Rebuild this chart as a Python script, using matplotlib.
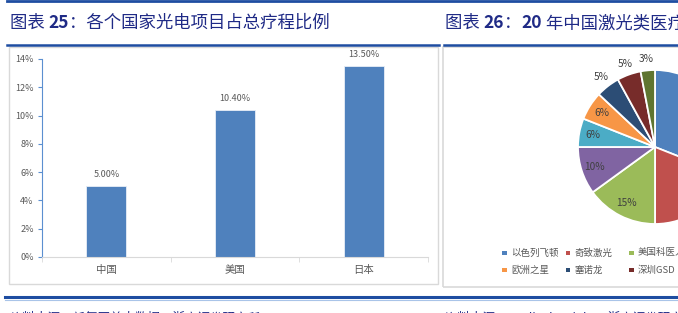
import matplotlib
matplotlib.use("Agg")
import matplotlib.pyplot as plt
from matplotlib.patches import Rectangle
from matplotlib.lines import Line2D
import numpy as np

plt.rcParams['font.family'] = ['Noto Sans CJK SC', 'DejaVu Sans']

# --- data ---
countries = ['中国', '美国', '日本']
share = [5.0, 10.4, 13.5]
yticks = [0, 2, 4, 6, 8, 10, 12, 14]

brands = ['以色列飞顿', '奇致激光', '美国科医人', '美国赛诺秀', '半岛医疗',
          '欧洲之星', '塞诺龙', '深圳GSD', '其他']
brand_share = [31, 19, 15, 10, 6, 6, 5, 5, 3]
brand_colors = ['#4F81BD', '#C0504D', '#9BBB59', '#8064A2', '#4BACC6',
                '#F79646', '#2C4D75', '#772C2A', '#5F7530']

title_left = [('图表 ', False), ('25', True), ('：各个国家光电项目占总疗程比例', False)]
title_right = [('图表 ', False), ('26', True), ('：', False), ('20', True),
               (' 年中国激光类医疗美容设备市场份额', False)]
source_left = '资料来源：新氧医美大数据，浙商证券研究所'
source_right = '资料来源：Medical Insight，浙商证券研究所'

NAVY = '#1F2A86'
LINE_BLUE = '#1E4DA1'
GRAY_TXT = '#595959'

W, H = 678, 313
fig = plt.figure(figsize=(W / 100, H / 100), dpi=100)
fig.patch.set_facecolor('white')
renderer = fig.canvas.get_renderer()


def fx(x):
    return x / W


def fy(y):
    return 1 - y / H


def hline(x0, x1, y, color, lw):
    fig.add_artist(Line2D([fx(x0), fx(x1)], [fy(y), fy(y)], color=color, lw=lw))


def draw_title(x, y, parts):
    for s, bold in parts:
        t = fig.text(fx(x), fy(y), s, fontsize=12.5, color=NAVY, va='center',
                     weight='bold' if bold else 'normal')
        x += t.get_window_extent(renderer).width


# header / footer rules
hline(7, 678, 1, LINE_BLUE, 2.0)
hline(7, 439, 45, LINE_BLUE, 1.8)
hline(444, 678, 45, LINE_BLUE, 1.8)
hline(5, 678, 297, LINE_BLUE, 2.2)
hline(5, 678, 299.5, '#A9C4E8', 0.8)

draw_title(10, 23, title_left)
draw_title(445, 23, title_right)

# source lines: only their top edge shows at the bottom of the picture
fig.text(fx(10), fy(322), source_left, fontsize=9, color=NAVY, va='baseline')
fig.text(fx(445), fy(322), source_right, fontsize=9, color=NAVY, va='baseline')

# chart frames
fig.add_artist(Rectangle((fx(9), fy(284)), fx(438) - fx(9), fy(47) - fy(284),
                         transform=fig.transFigure, fill=False, ec='#D9D9D9', lw=1))
fig.add_artist(Rectangle((fx(443), fy(287)), fx(700) - fx(443), fy(47) - fy(287),
                         transform=fig.transFigure, fill=False, ec='#D9D9D9', lw=1.2))

# --- bar chart ---
ax = fig.add_axes([fx(42), fy(257), fx(428) - fx(42), fy(59) - fy(257)])
x = np.arange(len(countries))
bars = ax.bar(x, share, width=0.31, color='#4F81BD', edgecolor='#E8EEF7', lw=0.6, zorder=2)
for b, v in zip(bars, share):
    ax.annotate(f'{v:.2f}%', (b.get_x() + b.get_width() / 2, v),
                xytext=(0, 5), textcoords='offset points', ha='center', va='bottom',
                fontsize=6.5, color=GRAY_TXT)
ax.set_xlim(-0.5, len(countries) - 0.5)
ax.set_ylim(0, 14)
ax.set_yticks(yticks)
ax.set_yticklabels([f'{t}%' for t in yticks])
ax.set_xticks(x)
ax.set_xticklabels(countries)
ax.set_xticks(np.arange(-0.5, len(countries)), minor=True)
ax.tick_params(axis='x', which='major', length=0, pad=6, labelsize=7.5, labelcolor=GRAY_TXT)
ax.tick_params(axis='x', which='minor', length=3.5, color='#D9D9D9', direction='out')
ax.tick_params(axis='y', length=3, color='#5B8FD0', pad=3, labelsize=6.5, labelcolor=GRAY_TXT)
for s in ['top', 'right']:
    ax.spines[s].set_visible(False)
ax.spines['left'].set_color('#5B8FD0')
ax.spines['bottom'].set_color('#D9D9D9')
ax.patch.set_visible(False)

# --- pie chart ---
cx, cy, half = 655, 147, 100
pax = fig.add_axes([fx(cx - half), fy(cy + half), 2 * half / W, 2 * half / H])
R = 0.77
wedges, _ = pax.pie(brand_share, colors=brand_colors, startangle=90, counterclock=False,
                    radius=R, wedgeprops=dict(edgecolor='white', linewidth=1.3))
pax.set_xlim(-1, 1)
pax.set_ylim(-1, 1)
pax.set_aspect('equal')
pax.axis('off')
for w, v in zip(wedges, brand_share):
    mid = np.deg2rad((w.theta1 + w.theta2) / 2)
    d = 0.82 if v >= 6 else 1.15
    pax.text(d * R * np.cos(mid), d * R * np.sin(mid), f'{v}%', ha='center', va='center',
             fontsize=7.3, color='#404040')

# legend laid out in Excel's uniform columns
for i, (name, col) in enumerate(zip(brands, brand_colors)):
    r, c = divmod(i, 5)
    lx = 502 + c * 63.5
    ly = 253 + r * 17
    fig.add_artist(Rectangle((fx(lx), fy(ly + 2.3)), 4.6 / W, 4.6 / H,
                             transform=fig.transFigure, color=col, lw=0))
    fig.text(fx(lx + 9), fy(ly), name, fontsize=6.8, color=GRAY_TXT, va='center')

fig.savefig('out.png', dpi=100)
